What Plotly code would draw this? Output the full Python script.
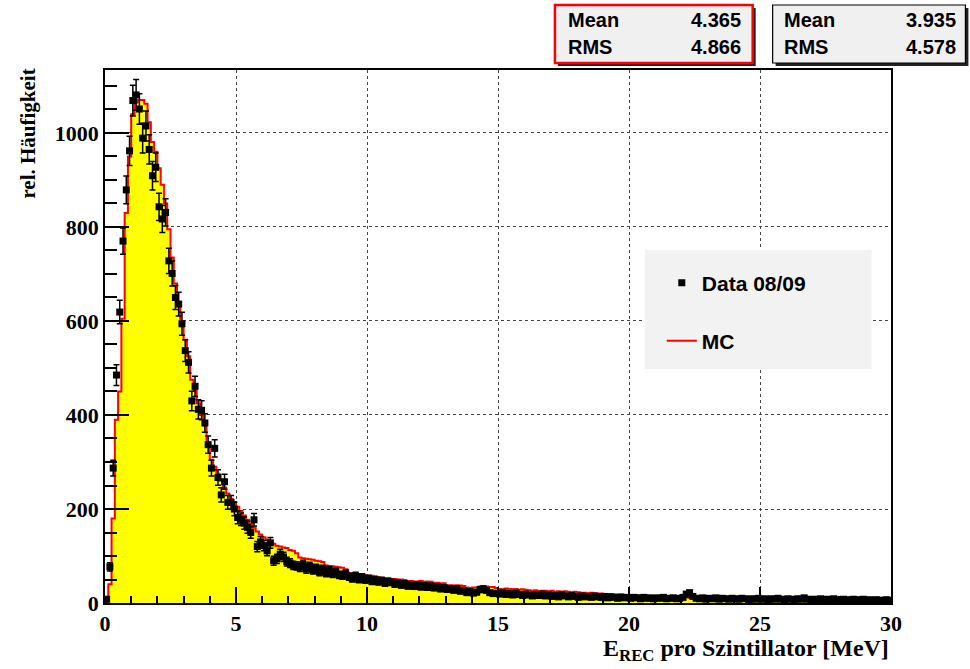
import numpy as np
import plotly.graph_objects as go

# ---------------- data ----------------
x_lo, x_hi, bin_w = 0.0, 30.0, 0.125

data_0809 = [
    8, 77, 287, 485, 619, 770, 879, 962, 1069, 1081,
    1051, 989, 1015, 965, 909, 927, 843, 817, 831, 728,
    701, 650, 636, 594, 537, 512, 430, 461, 412, 410,
    383, 337, 287, 329, 267, 230, 258, 214, 214, 200,
    182, 178, 170, 161, 150, 177, 120, 130, 122, 111,
    128, 90, 94, 104, 98, 88, 85, 80, 79, 76,
    82, 72, 78, 70, 74, 66, 72, 64, 70, 62,
    66, 60, 58, 63, 56, 52, 58, 50, 55, 49,
    52, 46, 49, 45, 48, 42, 46, 44, 40, 42,
    38, 41, 36, 39, 35, 38, 34, 37, 33, 36,
    32, 35, 30, 33, 29, 31, 27, 30, 25, 26,
    22, 24, 21, 23, 28, 30, 27, 22, 20, 21,
    19, 22, 18, 20, 17, 21, 18, 16, 19, 17,
    15, 18, 16, 19, 15, 17, 14, 16, 13, 17,
    15, 13, 16, 14, 12, 15, 13, 14, 12, 15,
    13, 12, 14, 11, 13, 12, 10, 13, 11, 12,
    10, 12, 11, 9, 12, 10, 11, 9, 11, 10,
    12, 9, 10, 11, 9, 10, 12, 19, 22, 14,
    10, 9, 11, 8, 10, 9, 11, 8, 10, 9,
    8, 10, 9, 8, 10, 9, 7, 9, 8, 10,
    8, 9, 7, 9, 8, 10, 8, 7, 9, 8,
    7, 9, 8, 11, 8, 7, 8, 7, 9, 6,
    8, 7, 9, 7, 6, 8, 7, 6, 8, 7,
    6, 8, 6, 7, 5, 7, 6, 5, 7, 6,
]

mc = [
    0, 40, 180, 390, 450, 605, 830, 950, 1040, 1065,
    1070, 1070, 1062, 1023, 981, 960, 925, 890, 850, 795,
    735, 680, 635, 600, 560, 525, 475, 452, 425, 400,
    378, 340, 305, 290, 275, 260, 246, 233, 222, 215,
    205, 196, 186, 177, 168, 160, 152, 146, 140, 135,
    130, 126, 122, 120, 118, 117, 113, 111, 106, 97,
    95, 94, 93, 92, 90, 89, 87, 80, 78, 78,
    77, 76, 75, 72, 64, 62, 62, 61, 60, 59,
    58, 58, 57, 55, 53, 52, 52, 51, 51, 50,
    50, 49, 47, 47, 46, 46, 47, 45, 46, 45,
    43, 43, 42, 42, 38, 38, 37, 38, 37, 36,
    33, 32, 33, 33, 35, 36, 35, 34, 34, 32,
    30, 29, 31, 30, 29, 30, 28, 29, 28, 27,
    26, 27, 25, 26, 26, 25, 26, 24, 25, 24,
    25, 24, 23, 24, 23, 22, 22, 21, 22, 21,
    20, 20, 19, 18, 19, 18, 17, 17, 16, 17,
    16, 15, 16, 15, 15, 14, 15, 14, 14, 13,
    14, 13, 13, 12, 13, 12, 12, 12, 11, 12,
    11, 11, 12, 11, 11, 10, 11, 10, 10, 11,
    10, 10, 10, 9, 10, 9, 9, 10, 9, 9,
    9, 9, 8, 9, 8, 9, 8, 8, 8, 8,
    8, 7, 8, 7, 8, 7, 7, 7, 7, 8,
    7, 7, 6, 7, 7, 6, 7, 6, 6, 7,
    6, 6, 6, 6, 5, 6, 6, 5, 6, 5,
]

x_ticks = [0, 5, 10, 15, 20, 25, 30]
y_ticks = [0, 200, 400, 600, 800, 1000]

stats_mc = {"Mean": "4.365", "RMS": "4.866"}
stats_data = {"Mean": "3.935", "RMS": "4.578"}

# ---------------- figure ----------------
W, H = 970, 669
L, R, T, B = 104.5, 891.5, 70, 603

def px(xp):
    return (xp - L) / (R - L)

def py(yp):
    return (B - yp) / (B - T)

nb = len(mc)
edges = x_lo + bin_w * np.arange(nb + 1)
centers = x_lo + bin_w * (np.arange(nb) + 0.5)
d = np.array(data_0809, dtype=float)

fig = go.Figure()

fig.add_trace(go.Scatter(
    x=edges, y=list(mc) + [mc[-1]], mode="lines", line_shape="hv",
    fill="tozeroy", fillcolor="#ffff00",
    line=dict(color="#ff0000", width=2), showlegend=False, hoverinfo="skip"))

fig.add_trace(go.Scatter(
    x=centers, y=d, mode="markers", name="Data 08/09",
    marker=dict(symbol="square", size=7, color="black"),
    error_y=dict(type="data", array=np.sqrt(d), color="black", thickness=1.5, width=3),
    error_x=dict(type="constant", value=bin_w / 2, color="black", thickness=1.5, width=0),
    legend="legend"))

fig.add_trace(go.Scatter(
    x=[None], y=[None], mode="lines", name="MC",
    line=dict(color="#ff0000", width=2), legend="legend2"))

serif_bold = dict(family="Liberation Serif", size=22, color="black", weight="bold")
sans_bold = dict(family="Liberation Sans", size=20, color="black", weight="bold")

fig.update_layout(
    width=W, height=H,
    margin=dict(l=L, r=W - R, t=T, b=H - B, pad=0),
    paper_bgcolor="white", plot_bgcolor="white",
    xaxis=dict(range=[x_lo, x_hi], tickvals=x_ticks, ticktext=[str(v) for v in x_ticks],
               ticks="inside", ticklen=16, tickwidth=1.5, tickcolor="black",
               minor=dict(dtick=1, ticks="inside", ticklen=7, tickwidth=1.5, tickcolor="black", showgrid=False),
               showgrid=True, gridcolor="#444", griddash="dot", gridwidth=1,
               showline=True, linecolor="black", linewidth=1.5, mirror=True,
               zeroline=False, tickfont=serif_bold),
    yaxis=dict(range=[0, 1134], tickvals=y_ticks, ticktext=[str(v) for v in y_ticks],
               ticks="inside", ticklen=24, tickwidth=1.5, tickcolor="black",
               minor=dict(dtick=50, ticks="inside", ticklen=12, tickwidth=1.5, tickcolor="black", showgrid=False),
               showgrid=True, gridcolor="#444", griddash="dot", gridwidth=1,
               showline=True, linecolor="black", linewidth=1.5, mirror=True,
               zeroline=False, tickfont=serif_bold),
    legend=dict(x=px(662), y=py(283), xanchor="left", yanchor="middle",
                bgcolor="rgba(0,0,0,0)", font=dict(family="Liberation Sans", size=21, color="black", weight="bold")),
    legend2=dict(x=px(662), y=py(341), xanchor="left", yanchor="middle",
                 bgcolor="rgba(0,0,0,0)", font=dict(family="Liberation Sans", size=21, color="black", weight="bold")),
)

shapes = []
# legend box
shapes.append(dict(type="rect", xref="paper", yref="paper", x0=px(645), x1=px(872), y0=py(369), y1=py(250),
                   fillcolor="#f2f2f2", line=dict(width=0), layer="above"))
# stat boxes with shadows
for (x0, x1, col, lw) in [(555, 753, "#ff0000", 2.5), (773, 966, "black", 1.2)]:
    shapes.append(dict(type="rect", xref="paper", yref="paper", x0=px(x0 + 3), x1=px(x1 + 3), y0=py(66), y1=py(8),
                       fillcolor="#222", line=dict(width=0), layer="above"))
    shapes.append(dict(type="rect", xref="paper", yref="paper", x0=px(x0), x1=px(x1), y0=py(63), y1=py(5),
                       fillcolor="#f0f0f0", line=dict(color=col, width=lw), layer="above"))
fig.update_layout(shapes=shapes)

ann = []
for stats, xl, xr in [(stats_mc, 566, 743), (stats_data, 782, 959)]:
    for k, yy in [("Mean", 20), ("RMS", 47)]:
        ann.append(dict(x=px(xl), y=py(yy), xref="paper", yref="paper", text=k, showarrow=False,
                        xanchor="left", yanchor="middle", font=sans_bold))
        ann.append(dict(x=px(xr), y=py(yy), xref="paper", yref="paper", text=stats[k], showarrow=False,
                        xanchor="right", yanchor="middle", font=sans_bold))
ann.append(dict(x=px(891), y=py(650), xref="paper", yref="paper",
                text="E<sub>REC</sub> pro Szintillator [MeV]", showarrow=False,
                xanchor="right", yanchor="middle",
                font=dict(family="Liberation Serif", size=24, color="black", weight="bold")))
ann.append(dict(x=px(27), y=py(134), xref="paper", yref="paper", text="rel. Häufigkeit",
                showarrow=False, textangle=-90, xanchor="center", yanchor="middle",
                font=dict(family="Liberation Serif", size=21, color="black", weight="bold")))
fig.update_layout(annotations=ann)

fig.write_html("out.html", config={"displayModeBar": False},
               post_script="document.body.style.margin='0';document.body.style.padding='0';document.body.style.overflow='hidden';")
